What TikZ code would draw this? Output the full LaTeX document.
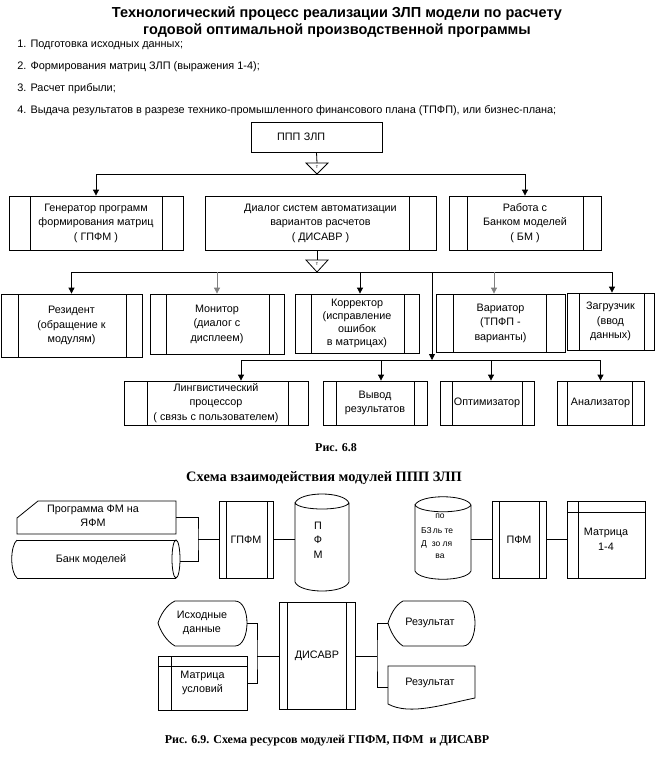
\documentclass[tikz,border=0pt]{standalone}
\usepackage{fontspec}
\setmainfont{Liberation Serif}
\setsansfont{Liberation Sans}
\usepackage{tikz}
\usetikzlibrary{arrows.meta}
\usetikzlibrary{positioning}

\tikzset{
  box/.style={draw, inner sep=0pt, align=center,
    font=\sffamily\fontsize{10.8}{14.5}\selectfont},
  % box with an inner bar on each side
  procbox/.style 2 args={box, path picture={
    \draw ([xshift=#1]path picture bounding box.north west)
      -- ([xshift=#1]path picture bounding box.south west);
    \draw ([xshift=-#2]path picture bounding box.north east)
      -- ([xshift=-#2]path picture bounding box.south east);}},
  % box with a vertical and a horizontal line at the top left
  storebox/.style 2 args={box, path picture={
    \draw ([xshift=#1]path picture bounding box.north west)
      -- ([xshift=#1]path picture bounding box.south west);
    \draw ([yshift=-#2]path picture bounding box.north west)
      -- ([yshift=-#2]path picture bounding box.north east);}},
  txt/.style={inner sep=0pt, align=center,
    font=\sffamily\fontsize{10.8}{14.5}\selectfont},
  listitem/.style={inner sep=0pt, anchor=west,
    font=\sffamily\fontsize{10.9}{12}\selectfont},
  ttl/.style={inner sep=0pt, align=center,
    font=\sffamily\bfseries\fontsize{14.5}{17}\selectfont},
  figcap/.style={inner sep=0pt, font=\bfseries\fontsize{12}{14}\selectfont},
  tlbl/.style={inner sep=0pt, font=\sffamily\fontsize{5}{5}\selectfont},
  smalltxt/.style={inner sep=0pt, font=\sffamily\fontsize{8.5}{10}\selectfont},
  arr/.style={-{Triangle[length=6pt,width=6pt]}},
  garr/.style={arr, draw=gray},
}

\begin{document}
\begin{tikzpicture}[x=1pt, y=-1pt, line width=0.8pt]
\useasboundingbox (0,0) rectangle (657,761);

% heading and list
\node[ttl] (title) at (337,22) {Технологический процесс реализации ЗЛП модели по расчету\\
  годовой оптимальной производственной программы};
\node[listitem] (s1) at (17,45) {1. Подготовка исходных данных;};
\node[listitem] (s2) at (17,67) {2. Формирования матриц ЗЛП (выражения 1-4);};
\node[listitem] (s3) at (17,89) {3. Расчет прибыли;};
\node[listitem] (s4) at (17,111) {4. Выдача результатов в разрезе технико-промышленного финансового плана (ТПФП), или бизнес-плана;};

% Fig. 6.8
\node[box, minimum width=131pt, minimum height=30pt, text width=79pt,
  inner xsep=26pt, align=left] (ppp) at (316.5,137) {ППП ЗЛП};

\node[procbox={21}{21}, minimum width=174pt, minimum height=54pt] (gen) at (96,223)
  {Генератор программ\\формирования матриц\\( ГПФМ )};
\node[procbox={0}{27}, minimum width=231pt, minimum height=54pt] (dsv) at (320.5,223)
  {Диалог систем автоматизации\\вариантов расчетов\\( ДИСАВР )};
\node[procbox={18}{18}, minimum width=152pt, minimum height=54pt] (bm) at (525,223)
  {Работа с\\Банком моделей\\( БМ )};

\node[procbox={17}{16}, minimum width=141pt, minimum height=63pt] (res) at (71.5,325.5)
  {Резидент\\(обращение к\\модулям)};
\node[procbox={16}{15}, minimum width=134pt, minimum height=60pt] (mon) at (217,324)
  {Монитор\\(диалог с\\дисплеем)};
\node[procbox={16}{15}, minimum width=124pt, minimum height=59pt,
  font=\sffamily\fontsize{10.8}{13}\selectfont] (kor) at (357,323.5)
  {Корректор\\(исправление\\ошибок\\в матрицах)};
\node[procbox={17}{19}, minimum width=129pt, minimum height=58pt] (var) at (500.5,323)
  {Вариатор\\(ТПФП -\\варианты)};
\node[procbox={12}{10}, minimum width=87pt, minimum height=57pt] (zag) at (610.5,321.5)
  {Загрузчик\\(ввод\\данных)};

\node[procbox={23}{20}, minimum width=184pt, minimum height=44pt] (lng) at (216,403)
  {Лингвистический\\процессор\\( связь с пользователем)};
\node[procbox={13}{13}, minimum width=104pt, minimum height=44pt] (vyv) at (375,403)
  {Вывод\\результатов};
\node[procbox={12}{12}, minimum width=94pt, minimum height=44pt] (opt) at (487,403)
  {Оптимизатор};
\node[procbox={10}{12}, minimum width=87pt, minimum height=44pt] (anl) at (600.5,403)
  {Анализатор};

% branch marks
\coordinate (t1) at (317,163);
\coordinate (b1) at (317,174);
\draw (t1) ++(-11,0) -- ++(22,0) -- (b1) -- cycle;
\node[tlbl] (t1l) at (317,167) {т};
\coordinate (t2) at (317,260);
\coordinate (b2) at (317,272);
\draw (t2) ++(-11,0) -- ++(22,0) -- (b2) -- cycle;
\node[tlbl] (t2l) at (317,264) {т};
\coordinate (b3) at (432,360);

\begin{scope}
  \draw (ppp.south) -- (t1);
  \draw[arr] (b1) -| (gen.north);
  \draw[arr] (b1) -| (bm.north);
  \draw (dsv.south -| t2) -- (t2);
  \draw[arr] (b2) -| (res.north);
  \draw[arr] (b2) -| ([xshift=3pt]kor.north);
  \draw[arr] (b2) -| ([xshift=1.5pt]zag.north);
  \draw[arr] (b2 -| b3) -- (b3);
  \draw[garr] (b2 -| mon.north) -- (mon.north);
  \draw[garr] (b2 -| 494,0) -- ([xshift=-6.5pt]var.north);
  \draw[arr] (b3) -| ([xshift=25pt]lng.north);
  \draw[arr] (b3) -| ([xshift=6pt]vyv.north);
  \draw[arr] (b3) -| ([xshift=4pt]opt.north);
  \draw[arr] (b3) -| (anl.north);
\end{scope}

\node[figcap] (cap1) at (336,448) {Рис. 6.8};

% Fig. 6.9
\node[figcap, font=\bfseries\fontsize{14.4}{16}\selectfont] (title2) at (324,478)
  {Схема взаимодействия модулей ППП ЗЛП};

% program card
\draw (38,501) -- (176,501) -- (176,534) -- (17,534) -- (17,518) -- cycle;
\node[txt] (prog) at (93,516) {Программа ФМ на\\ЯФМ};
\coordinate (prog-e) at (176,517);

% bank of models
\draw (17,540) -- (176,540) (17,578) -- (176,578);
\draw (17,540) .. controls (10,546) and (10,572) .. (17,578);
\draw (176,559) ellipse [x radius=4, y radius=19];
\node[txt] (bank) at (91,560) {Банк моделей};
\coordinate (bank-e) at (180,561);

\node[procbox={7}{6}, minimum width=54pt, minimum height=77pt] (gpfm) at (246,539.5) {ГПФМ};

% data base PFM
\draw (295,503) .. controls (300,491) and (344,491) .. (349,503)
  .. controls (344,511) and (300,511) .. (295,503) -- (295,582)
  .. controls (300,594) and (344,594) .. (349,582) -- (349,503);
\node[txt] (pfmdb) at (318,540) {П\\Ф\\М};
\coordinate (pfmdb-w) at (295,539.5);

% data base BZD
\draw (415,505) .. controls (420,494) and (466,494) .. (471,505)
  .. controls (466,514) and (420,514) .. (415,505) -- (415,571)
  .. controls (420,582) and (466,582) .. (471,571) -- (471,505);
\node[smalltxt] (bzd1) at (426.5,531) {БЗ};
\node[smalltxt] (bzd2) at (424,544) {Д};
\node[smalltxt] (usr1) at (440,516) {по};
\node[smalltxt] (usr2) at (443,531) {ль те};
\node[smalltxt] (usr3) at (442,544) {зо ля};
\node[smalltxt] (usr4) at (440,556) {ва};
\coordinate (bzd-e) at (471,539.5);

\node[procbox={7}{7}, minimum width=54pt, minimum height=77pt] (pfm) at (519,539.5) {ПФМ};
\node[storebox={11}{11}, minimum width=78pt, minimum height=77pt] (mat) at (606,539.5)
  {Матрица\\1-4};

% source data
\draw (175,601) -- (235,601) .. controls (243,601) and (247,612) .. (247,623)
  .. controls (247,634) and (243,646) .. (235,646) -- (175,646)
  .. controls (166,641) and (160,630) .. (158,623)
  .. controls (160,616) and (166,605) .. (175,601) -- cycle;
\node[txt] (src) at (202,623) {Исходные\\данные};
\coordinate (src-e) at (247,623);

\node[storebox={13}{10}, minimum width=89pt, minimum height=54pt] (mcond) at (202.5,683)
  {Матрица\\условий};

\node[procbox={8}{9}, minimum width=76pt, minimum height=107pt] (disavr) at (317,655.5) {ДИСАВР};

% results
\draw (403,601) -- (463,601) .. controls (471,601) and (475,612) .. (475,623)
  .. controls (475,634) and (471,646) .. (463,646) -- (403,646)
  .. controls (395,641) and (390,630) .. (388,623)
  .. controls (390,616) and (395,605) .. (403,601) -- cycle;
\node[txt] (out1) at (430,623) {Результат};
\coordinate (out1-w) at (388,623);

\draw (388,666) -- (475,666) -- (475,698)
  .. controls (445,704) and (410,716) .. (388,704) -- cycle;
\node[txt] (out2) at (430,683) {Результат};
\coordinate (out2-w) at (388,687);

\coordinate (jg) at (198,539.5);
\coordinate (jd) at (257,656);
\coordinate (jr) at (377,656);

\begin{scope}
  \draw (prog-e) -| (jg) |- (bank-e);
  \draw (jg) -- (gpfm.west);
  \draw (gpfm.east) -- (pfmdb-w);
  \draw (bzd-e) -- (pfm.west);
  \draw (pfm.east) -- (mat.west);
  \draw (src-e) -| (jd) |- (mcond.east);
  \draw (jd) -- (jd -| disavr.west);
  \draw (jr -| disavr.east) -- (jr);
  \draw (out1-w) -| (jr) |- (out2-w);
\end{scope}

\node[figcap] (cap2) at (327,741) {Рис. 6.9. Схема ресурсов модулей ГПФМ, ПФМ~ и ДИСАВР};

\end{tikzpicture}
\end{document}
